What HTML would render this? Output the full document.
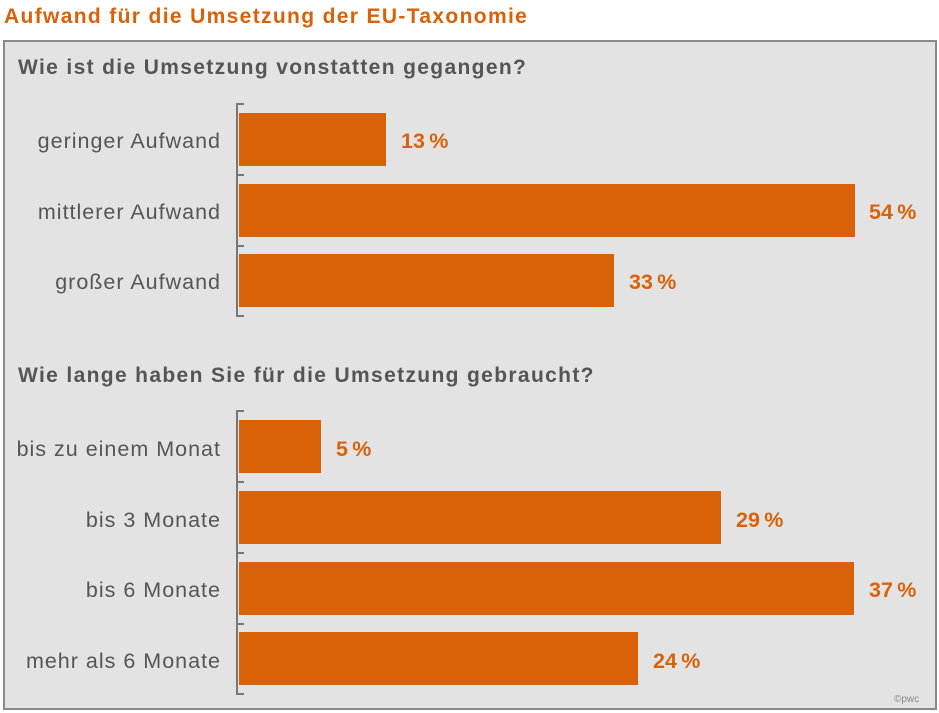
<!DOCTYPE html><html><head><style>
body{margin:0;width:939px;height:713px;background:#fff;font-family:"Liberation Sans",Arial,sans-serif;position:relative;overflow:hidden}
.t{position:absolute;left:4px;top:5px;font-size:21px;letter-spacing:1.35px;font-weight:bold;color:#d96209}
.box{position:absolute;left:3px;top:40px;width:930px;height:666px;background:#e3e3e3;border:2px solid #8a8a8a}
.h{position:absolute;left:18px;font-size:21px;letter-spacing:1.35px;font-weight:bold;color:#555}
.l{position:absolute;right:718px;font-size:21.5px;letter-spacing:1px;color:#555;text-align:right;white-space:nowrap}
.b{position:absolute;left:239px;background:#d96209}
.v{position:absolute;font-size:21.5px;font-weight:bold;color:#d96209;white-space:nowrap}
.ax{position:absolute;left:236px;width:2px;background:#777}
.tk{position:absolute;left:236px;width:8px;height:2px;background:#777}
.c{position:absolute;left:894px;top:694px;font-size:10px;color:#888}
</style></head><body>
<div class="t">Aufwand für die Umsetzung der EU-Taxonomie</div>
<div class="box"></div>
<div class="h" style="top:56px">Wie ist die Umsetzung vonstatten gegangen?</div>
<div class="ax" style="top:103px;height:214px"></div>
<div class="tk" style="top:103px"></div><div class="tk" style="top:174px"></div><div class="tk" style="top:245px"></div><div class="tk" style="top:315px"></div>
<div class="l" style="top:129px">geringer Aufwand</div>
<div class="b" style="top:113px;height:53px;width:147px"></div><div class="v" style="left:401px;top:129px">13&#8201;%</div>
<div class="l" style="top:200px">mittlerer Aufwand</div>
<div class="b" style="top:184px;height:53px;width:616px"></div><div class="v" style="left:869px;top:200px">54&#8201;%</div>
<div class="l" style="top:270px">großer Aufwand</div>
<div class="b" style="top:254px;height:53px;width:375px"></div><div class="v" style="left:629px;top:270px">33&#8201;%</div>
<div class="h" style="top:364px">Wie lange haben Sie für die Umsetzung gebraucht?</div>
<div class="ax" style="top:410px;height:285px"></div>
<div class="tk" style="top:410px"></div><div class="tk" style="top:481px"></div><div class="tk" style="top:552px"></div><div class="tk" style="top:623px"></div><div class="tk" style="top:693px"></div>
<div class="l" style="top:437px">bis zu einem Monat</div>
<div class="b" style="top:420px;height:53px;width:82px"></div><div class="v" style="left:336px;top:437px">5&#8201;%</div>
<div class="l" style="top:508px">bis 3 Monate</div>
<div class="b" style="top:491px;height:53px;width:482px"></div><div class="v" style="left:736px;top:508px">29&#8201;%</div>
<div class="l" style="top:578px">bis 6 Monate</div>
<div class="b" style="top:562px;height:53px;width:615px"></div><div class="v" style="left:869px;top:578px">37&#8201;%</div>
<div class="l" style="top:649px">mehr als 6 Monate</div>
<div class="b" style="top:632px;height:53px;width:399px"></div><div class="v" style="left:653px;top:649px">24&#8201;%</div>
<div class="c">©pwc</div>
</body></html>
